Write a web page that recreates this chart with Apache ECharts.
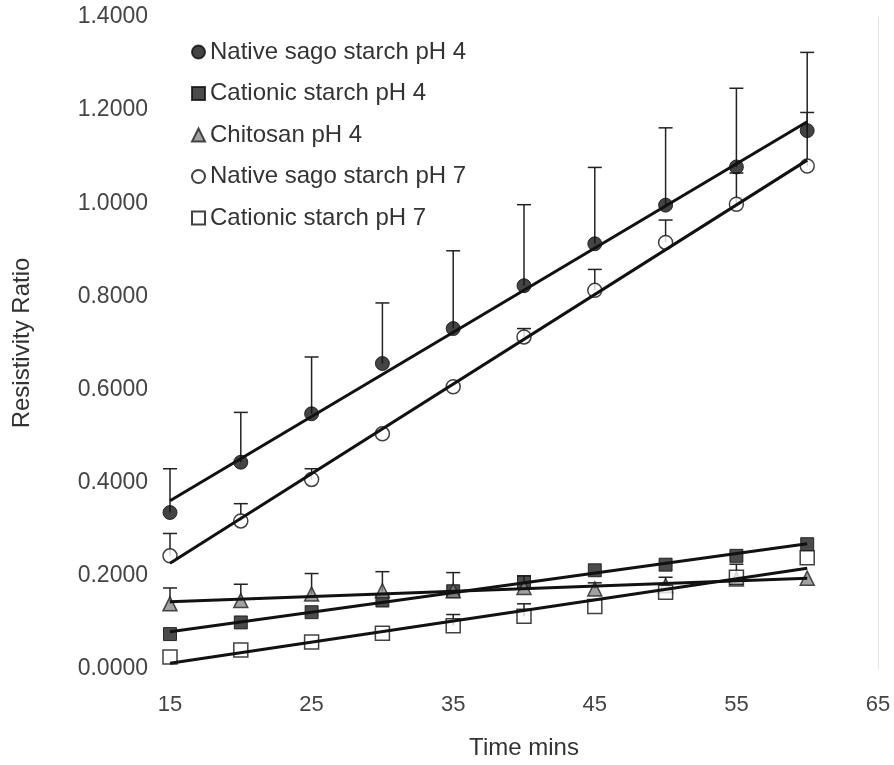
<!DOCTYPE html>
<html>
<head>
<meta charset="utf-8">
<script src="https://cdn.jsdelivr.net/npm/echarts@6/dist/echarts.min.js"></script>
<style>
html,body{margin:0;padding:0;background:#fff;}
#chart{width:894px;height:765px;}
</style>
</head>
<body>
<div id="chart"></div>
<script>
const times = [15, 20, 25, 30, 35, 40, 45, 50, 55, 60];
const xTicks = [15, 25, 35, 45, 55, 65];
const yTicks = [0, 0.2, 0.4, 0.6, 0.8, 1.0, 1.2, 1.4];

const seriesNames = [
  'Native sago starch pH 4',
  'Cationic starch pH 4',
  'Chitosan pH 4',
  'Native sago starch pH 7',
  'Cationic starch pH 7'
];

const nativePH4 = [0.336, 0.444, 0.548, 0.656, 0.731, 0.823, 0.913, 0.996, 1.078, 1.156];
const nativePH4Upper = [0.430, 0.551, 0.670, 0.786, 0.898, 0.997, 1.077, 1.162, 1.247, 1.324];

const cationicPH4 = [0.075, 0.100, 0.122, 0.147, 0.167, 0.186, 0.212, 0.224, 0.243, 0.268];
const cationicPH4Upper = [0.075, 0.100, 0.122, 0.147, 0.167, 0.186, 0.212, 0.224, 0.243, 0.268];

const chitosanPH4 = [0.140, 0.147, 0.161, 0.168, 0.168, 0.175, 0.172, 0.179, 0.193, 0.195];
const chitosanPH4Upper = [0.174, 0.182, 0.205, 0.209, 0.207, 0.200, 0.185, 0.197, 0.193, 0.195];

const nativePH7 = [0.243, 0.318, 0.407, 0.505, 0.606, 0.713, 0.813, 0.916, 0.998, 1.080];
const nativePH7Upper = [0.291, 0.355, 0.430, 0.505, 0.606, 0.731, 0.858, 0.964, 1.065, 1.195];

const cationicPH7 = [0.026, 0.041, 0.058, 0.077, 0.093, 0.113, 0.134, 0.165, 0.197, 0.239];
const cationicPH7Upper = [0.026, 0.041, 0.058, 0.077, 0.117, 0.140, 0.134, 0.165, 0.225, 0.239];

const values = [nativePH4, cationicPH4, chitosanPH4, nativePH7, cationicPH7];
const uppers = [nativePH4Upper, cationicPH4Upper, chitosanPH4Upper, nativePH7Upper, cationicPH7Upper];

const symbols = ['circle', 'rect', 'triangle', 'circle', 'rect'];
const symbolSizes = [14, 13, 14, 14, 14];
const itemStyles = [
  {color: '#151515', borderColor: '#0c0c0c', borderWidth: 1},
  {color: '#1e1e1e', borderColor: '#0c0c0c', borderWidth: 1},
  {color: '#8a8a8a', borderColor: '#222', borderWidth: 1.5},
  {color: '#ffffff', borderColor: '#111', borderWidth: 1.5},
  {color: '#ffffff', borderColor: '#111', borderWidth: 1.5}
];

function linFit(xs, ys) {
  const n = xs.length;
  let sx = 0, sy = 0;
  for (let i = 0; i < n; i++) { sx += xs[i]; sy += ys[i]; }
  const mx = sx / n, my = sy / n;
  let num = 0, den = 0;
  for (let i = 0; i < n; i++) { num += (xs[i] - mx) * (ys[i] - my); den += (xs[i] - mx) * (xs[i] - mx); }
  const b = num / den, a = my - b * mx;
  const x0 = xs[0], x1 = xs[n - 1];
  return [[x0, a + b * x0], [x1, a + b * x1]];
}

const series = [];
values.forEach((vals, k) => {
  const up = uppers[k];
  series.push({
    type: 'custom',
    name: seriesNames[k] + ' err',
    z: 1,
    silent: true,
    data: times.map((t, i) => [t, vals[i], up[i]]),
    renderItem: function (params, api) {
      const p0 = api.coord([api.value(0), api.value(1)]);
      const p1 = api.coord([api.value(0), api.value(2)]);
      if (Math.abs(p0[1] - p1[1]) < 1) return null;
      const hw = 7;
      return {
        type: 'group',
        children: [
          {type: 'line', shape: {x1: p0[0], y1: p0[1], x2: p1[0], y2: p1[1]}, style: {stroke: '#222', lineWidth: 1.5}},
          {type: 'line', shape: {x1: p1[0] - hw, y1: p1[1], x2: p1[0] + hw, y2: p1[1]}, style: {stroke: '#222', lineWidth: 1.5}}
        ]
      };
    }
  });
  series.push({
    type: 'scatter',
    name: seriesNames[k],
    z: 2,
    symbol: symbols[k],
    symbolSize: symbolSizes[k],
    itemStyle: itemStyles[k],
    data: times.map((t, i) => [t, vals[i]])
  });
  series.push({
    type: 'line',
    name: seriesNames[k] + ' trend',
    z: 3,
    symbol: 'none',
    silent: true,
    lineStyle: {color: '#111', width: 3},
    data: linFit(times, vals)
  });
});

const chart = echarts.init(document.getElementById('chart'));
chart.setOption({
  animation: false,
  backgroundColor: '#ffffff',
  textStyle: {fontFamily: 'Liberation Sans, Arial, sans-serif'},
  grid: {left: 170, right: 16, top: 17, bottom: 93},
  legend: {
    orient: 'vertical',
    left: 186,
    top: 33,
    itemWidth: 13,
    itemHeight: 13,
    itemGap: 13.5,
    data: seriesNames,
    textStyle: {fontSize: 24, lineHeight: 28, color: '#333', fontFamily: 'Liberation Sans, Arial, sans-serif'}
  },
  xAxis: {
    type: 'value',
    min: xTicks[0],
    max: xTicks[xTicks.length - 1],
    interval: xTicks[1] - xTicks[0],
    name: 'Time mins',
    nameLocation: 'middle',
    nameGap: 67,
    nameTextStyle: {fontSize: 24, color: '#333'},
    axisLine: {show: false},
    axisTick: {show: false},
    splitLine: {show: false},
    axisLabel: {fontSize: 22, color: '#444', margin: 25}
  },
  yAxis: [{
    type: 'value',
    min: yTicks[0],
    max: yTicks[yTicks.length - 1],
    interval: 0.2,
    name: 'Resistivity Ratio',
    nameLocation: 'middle',
    nameGap: 136,
    nameTextStyle: {fontSize: 24, color: '#333'},
    axisLine: {show: false},
    axisTick: {show: false},
    splitLine: {show: false},
    axisLabel: {fontSize: 23, color: '#444', margin: 22, formatter: v => v.toFixed(4)}
  }, {
    type: 'value',
    position: 'right',
    min: yTicks[0],
    max: yTicks[yTicks.length - 1],
    axisLine: {show: true, lineStyle: {color: '#e6e6e6', width: 1}},
    axisTick: {show: false},
    axisLabel: {show: false},
    splitLine: {show: false}
  }],
  series: series
});
</script>
</body>
</html>
